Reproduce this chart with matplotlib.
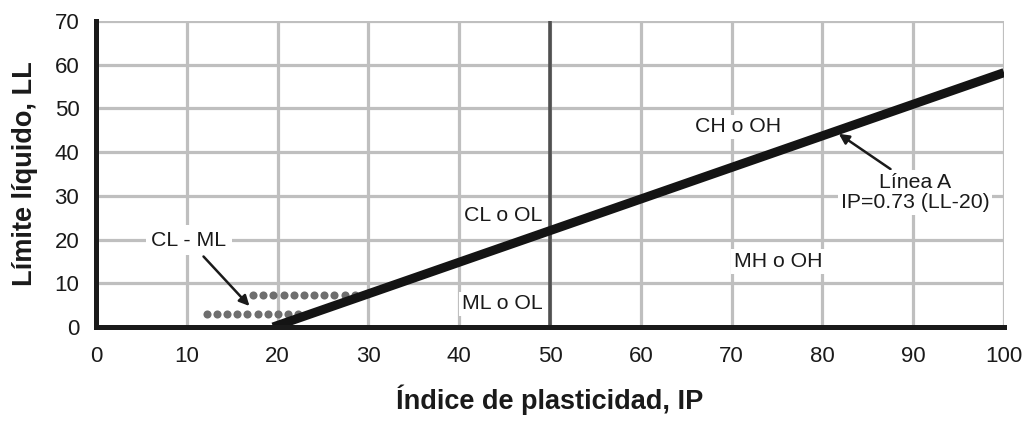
import matplotlib
matplotlib.use("Agg")
import matplotlib.pyplot as plt

plt.rcParams["font.family"] = ["Liberation Sans", "DejaVu Sans"]

# Linea A endpoints (IP vs LL as labelled in the original chart)
linea_x = [19.5, 100]
linea_y = [0, 58.2]

# CL-ML dotted band
dots_upper_x = [17.3 + 1.12 * i for i in range(11)]
dots_upper_y = [7.4] * 11
dots_lower_x = [12.2 + 1.12 * i for i in range(10)]
dots_lower_y = [2.9] * 10

# zone labels: (text, x, y, ha)
zones = [
    ("CL o OL", 49.2, 25.6, "right"),
    ("ML o OL", 49.2, 5.3, "right"),
    ("CH o OH", 70.7, 45.8, "center"),
    ("MH o OH", 75.1, 15.0, "center"),
]

x_ticks = list(range(0, 101, 10))
y_ticks = list(range(0, 71, 10))

fig = plt.figure(figsize=(10.30, 4.21), dpi=100, facecolor="white")
ax = fig.add_axes([0.0932, 0.2233, 0.8816, 0.7267])
ax.set_xlim(0, 100)
ax.set_ylim(0, 70)
ax.set_xticks(x_ticks)
ax.set_yticks(y_ticks)
ax.tick_params(length=0, labelsize=16, colors="#1a1a1a")
ax.tick_params(axis="x", pad=14)
ax.tick_params(axis="y", pad=12)
ax.grid(True, color="#bfbfbf", linewidth=2.3, zorder=0)
ax.set_axisbelow(True)

for s in ["top", "right"]:
    ax.spines[s].set_visible(False)
for s in ["left", "bottom"]:
    ax.spines[s].set_color("#1a1a1a")
    ax.spines[s].set_linewidth(3.6)
    ax.spines[s].set_zorder(5)

# vertical LL=50 line
ax.axvline(50, color="#505050", linewidth=2.6, zorder=3)

# Linea A
ax.plot(linea_x, linea_y, color="#141414", linewidth=6.5, solid_capstyle="butt", zorder=4)

# CL-ML dots
ax.scatter(dots_upper_x, dots_upper_y, s=34, color="#6e6e6e", zorder=2, linewidths=0)
ax.scatter(dots_lower_x, dots_lower_y, s=34, color="#6e6e6e", zorder=2, linewidths=0)

box = dict(facecolor="white", edgecolor="none", pad=2)
for txt, x, y, ha in zones:
    ax.text(x, y, txt, ha=ha, va="center", fontsize=15.3, color="#1a1a1a",
            bbox=box, zorder=3)

ax.annotate("CL - ML", xy=(16.9, 4.8), xytext=(10.2, 19.8),
            ha="center", va="center", fontsize=15.3, color="#1a1a1a",
            bbox=dict(facecolor="white", edgecolor="none", pad=4),
            arrowprops=dict(arrowstyle="-|>", color="#1a1a1a", lw=1.8,
                            shrinkA=1, shrinkB=0, mutation_scale=15),
            zorder=6)

ax.annotate("Línea A\nIP=0.73 (LL-20)", xy=(81.8, 44.2), xytext=(90.2, 30.8),
            ha="center", va="center", fontsize=15.3, color="#1a1a1a",
            linespacing=1.1,
            bbox=dict(facecolor="white", edgecolor="none", pad=2),
            arrowprops=dict(arrowstyle="-|>", color="#1a1a1a", lw=1.8,
                            shrinkA=1, shrinkB=0, mutation_scale=15,
                            relpos=(0.37, 1.0)),
            zorder=6)

ax.set_xlabel("Índice de plasticidad, IP", fontsize=19.5, fontweight="bold",
              labelpad=12, color="#1a1a1a")
ax.set_ylabel("Límite líquido, LL", fontsize=19.5, fontweight="bold",
              labelpad=12, color="#1a1a1a")

fig.savefig("out.png", dpi=100, facecolor="white")
